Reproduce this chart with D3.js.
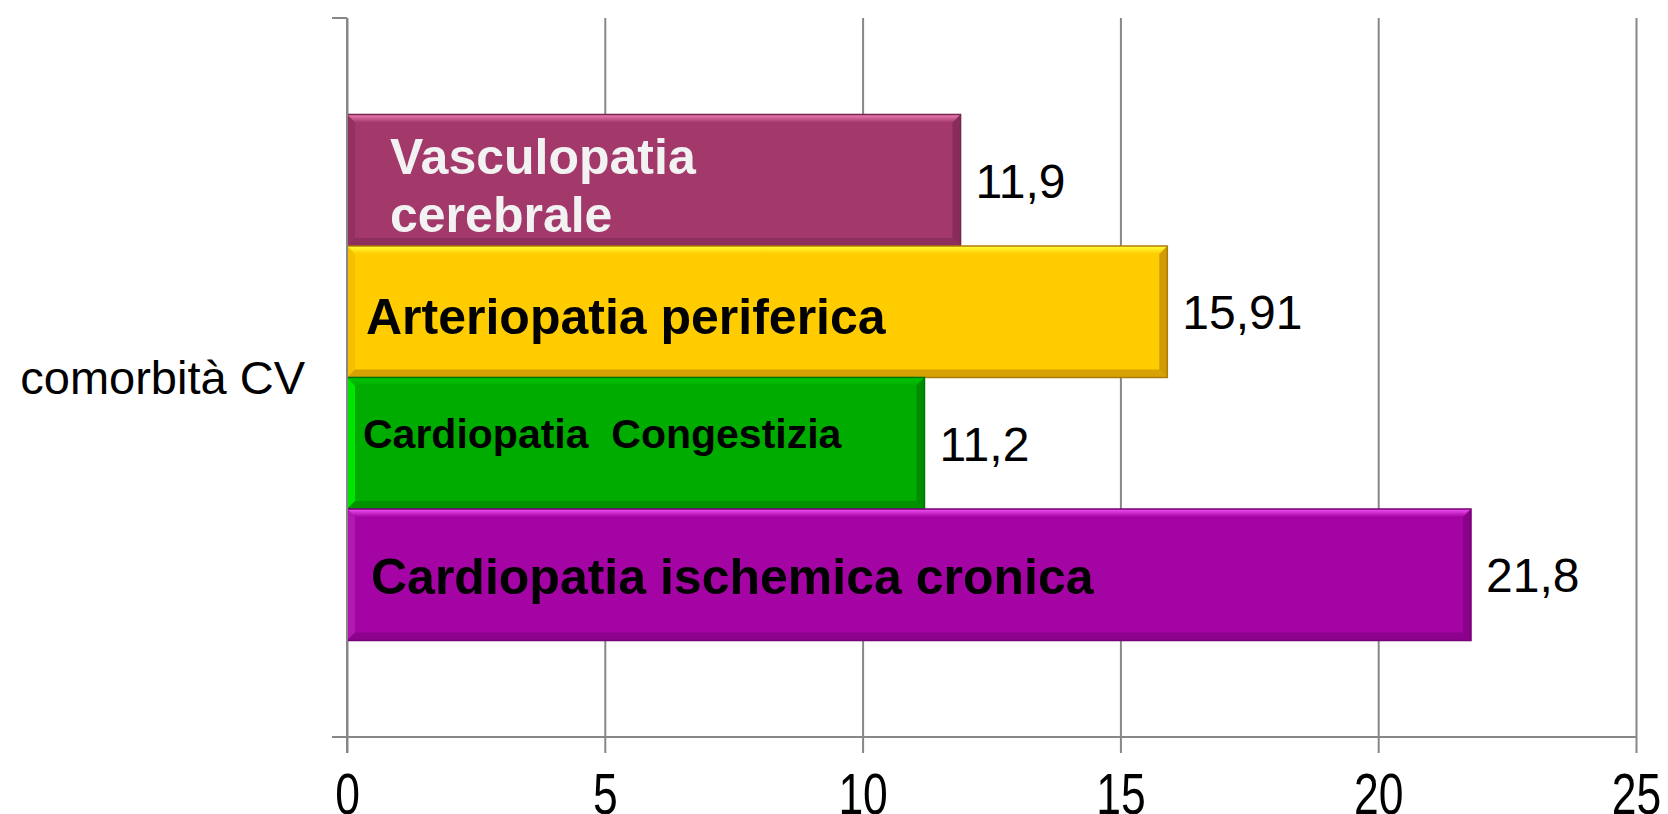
<!DOCTYPE html>
<html>
<head>
<meta charset="utf-8">
<script src="https://cdn.jsdelivr.net/npm/d3@7"></script>
<style>
  body { margin: 0; background: #ffffff; }
  svg { display: block; font-family: "Liberation Sans", Arial, sans-serif; }
</style>
</head>
<body>
<svg id="chart"></svg>
<script>
// data
var categories = ["comorbità CV"];
var seriesNames = [
  "Vasculopatia cerebrale",
  "Arteriopatia periferica",
  "Cardiopatia Congestizia",
  "Cardiopatia ischemica cronica"
];
var seriesValues = [11.9, 15.91, 11.2, 21.8];
var valueLabels = ["11,9", "15,91", "11,2", "21,8"];
var barLabelLines = [
  ["Vasculopatia", "cerebrale"],
  ["Arteriopatia periferica"],
  ["Cardiopatia  Congestizia"],
  ["Cardiopatia ischemica cronica"]
];
var xTicks = [0, 5, 10, 15, 20, 25];

// styles
var barColors = [
  { base: "#a3386b", light: "#f27fb6", left: "#93325f", dark: "#772650" },
  { base: "#ffcc00", light: "#ffff3a", left: "#f5bf00", dark: "#b07a08" },
  { base: "#00ac00", light: "#00c800", left: "#00e600", dark: "#007800" },
  { base: "#a404a4", light: "#f252f2", left: "#b018b0", dark: "#760076" }
];
var labelColors = ["#f2f2f2", "#000000", "#000000", "#000000"];
var labelSizes = [50, 50, 41, 50];
var labelDx = [43, 19, 16, 24];
var labelDy = [-6, 22, 5, 19];

var width = 1668;
var height = 814;
var gridColor = "#878787";

var svg = d3.select("#chart").attr("width", width).attr("height", height);

var x = d3.scaleLinear().domain([0, 25]).range([347, 1636]);

var yOuter = d3
  .scaleBand()
  .domain(categories)
  .range([18, 737])
  .padding(0.155);

var yInner = d3
  .scaleBand()
  .domain(seriesNames)
  .range([0, yOuter.bandwidth()]);

var plotTop = yOuter.range()[0];
var plotBottom = yOuter.range()[1];

// x axis with gridlines
var xAxis = d3
  .axisBottom(x)
  .tickValues(xTicks)
  .tickSize(16)
  .tickSizeOuter(0)
  .tickFormat(d3.format("d"));

var axisG = svg
  .append("g")
  .attr("transform", "translate(0," + plotBottom + ")")
  .call(xAxis);

axisG.select(".domain").remove();
axisG
  .selectAll(".tick line")
  .attr("y1", -(plotBottom - plotTop))
  .attr("y2", 16)
  .attr("stroke", gridColor)
  .attr("stroke-width", 2);
axisG
  .selectAll(".tick text")
  .attr("y", 77)
  .attr("dy", 0)
  .attr("fill", "#000")
  .attr("font-size", 57)
  .attr("font-family", "'Liberation Sans', Arial, sans-serif")
  .attr("transform", "scale(0.78,1)");

// horizontal axis line
svg
  .append("line")
  .attr("x1", x(0) - 15)
  .attr("x2", x(25))
  .attr("y1", plotBottom)
  .attr("y2", plotBottom)
  .attr("stroke", gridColor)
  .attr("stroke-width", 2);

// category axis ticks at band edges
svg
  .selectAll(".ytick")
  .data([plotTop, plotBottom])
  .enter()
  .append("line")
  .attr("class", "ytick")
  .attr("x1", x(0) - 15)
  .attr("x2", x(0))
  .attr("y1", function (d) {
    return d;
  })
  .attr("y2", function (d) {
    return d;
  })
  .attr("stroke", gridColor)
  .attr("stroke-width", 2);

// gradients for the bevel top
var defs = svg.append("defs");
barColors.forEach(function (c, i) {
  var g = defs
    .append("linearGradient")
    .attr("id", "top" + i)
    .attr("x1", 0)
    .attr("x2", 0)
    .attr("y1", 0)
    .attr("y2", 1);
  g.append("stop").attr("offset", "0%").attr("stop-color", c.light);
  g.append("stop").attr("offset", "100%").attr("stop-color", c.base);
});

var bars = seriesNames.map(function (name, i) {
  var y0 = yOuter(categories[0]) + yInner(name);
  return {
    i: i,
    x0: x(0),
    x1: x(seriesValues[i]),
    y0: y0,
    y1: y0 + yInner.bandwidth()
  };
});

var bevel = 8;

function poly(points) {
  return "M" + points.map(function (p) {
    return p[0] + "," + p[1];
  }).join("L") + "Z";
}

var barG = svg
  .selectAll(".bar")
  .data(bars)
  .enter()
  .append("g")
  .attr("class", "bar");

barG
  .append("rect")
  .attr("x", function (d) {
    return d.x0;
  })
  .attr("y", function (d) {
    return d.y0;
  })
  .attr("width", function (d) {
    return d.x1 - d.x0;
  })
  .attr("height", function (d) {
    return d.y1 - d.y0;
  })
  .attr("fill", function (d) {
    return barColors[d.i].base;
  });

// top edge
barG
  .append("path")
  .attr("d", function (d) {
    return poly([
      [d.x0, d.y0],
      [d.x1, d.y0],
      [d.x1 - bevel, d.y0 + bevel],
      [d.x0 + bevel, d.y0 + bevel]
    ]);
  })
  .attr("fill", function (d) {
    return "url(#top" + d.i + ")";
  });

// left edge
barG
  .append("path")
  .attr("d", function (d) {
    return poly([
      [d.x0, d.y0],
      [d.x0 + bevel, d.y0 + bevel],
      [d.x0 + bevel, d.y1 - bevel],
      [d.x0, d.y1]
    ]);
  })
  .attr("fill", function (d) {
    return barColors[d.i].left;
  });

// bottom edge
barG
  .append("path")
  .attr("d", function (d) {
    return poly([
      [d.x0, d.y1],
      [d.x1, d.y1],
      [d.x1 - bevel, d.y1 - bevel],
      [d.x0 + bevel, d.y1 - bevel]
    ]);
  })
  .attr("fill", function (d) {
    return barColors[d.i].dark;
  })
  .attr("opacity", 0.5);

// right edge
barG
  .append("path")
  .attr("d", function (d) {
    return poly([
      [d.x1, d.y0],
      [d.x1, d.y1],
      [d.x1 - bevel, d.y1 - bevel],
      [d.x1 - bevel, d.y0 + bevel]
    ]);
  })
  .attr("fill", function (d) {
    return barColors[d.i].dark;
  })
  .attr("opacity", 0.6);

barG
  .append("rect")
  .attr("x", function (d) {
    return d.x0;
  })
  .attr("y", function (d) {
    return d.y0;
  })
  .attr("width", function (d) {
    return d.x1 - d.x0;
  })
  .attr("height", function (d) {
    return d.y1 - d.y0;
  })
  .attr("fill", "none")
  .attr("stroke", function (d) {
    return barColors[d.i].dark;
  })
  .attr("stroke-width", 1.5);

// vertical axis line over the bars
svg
  .append("line")
  .attr("x1", x(0))
  .attr("x2", x(0))
  .attr("y1", plotTop)
  .attr("y2", plotBottom + 16)
  .attr("stroke", gridColor)
  .attr("stroke-width", 2);

// labels inside the bars
barG
  .append("text")
  .attr("x", function (d) {
    return d.x0 + labelDx[d.i];
  })
  .attr("y", function (d) {
    return (d.y0 + d.y1) / 2 + labelDy[d.i];
  })
  .attr("font-weight", "bold")
  .attr("font-size", function (d) {
    return labelSizes[d.i];
  })
  .attr("fill", function (d) {
    return labelColors[d.i];
  })
  .style("white-space", "pre")
  .each(function (d) {
    var t = d3.select(this);
    barLabelLines[d.i].forEach(function (line, k) {
      t.append("tspan")
        .attr("x", d.x0 + labelDx[d.i])
        .attr("dy", k === 0 ? 0 : 58)
        .text(line);
    });
  });

// value labels
barG
  .append("text")
  .attr("x", function (d) {
    return d.x1 + 15;
  })
  .attr("y", function (d) {
    return (d.y0 + d.y1) / 2;
  })
  .attr("dy", "0.36em")
  .attr("font-size", 48)
  .attr("fill", "#000")
  .text(function (d) {
    return valueLabels[d.i];
  });

// category label
svg
  .append("text")
  .attr("x", 305)
  .attr("y", yOuter(categories[0]) + yOuter.bandwidth() / 2)
  .attr("dy", "0.36em")
  .attr("text-anchor", "end")
  .attr("font-size", 47)
  .attr("fill", "#000")
  .text(categories[0]);
</script>
</body>
</html>
